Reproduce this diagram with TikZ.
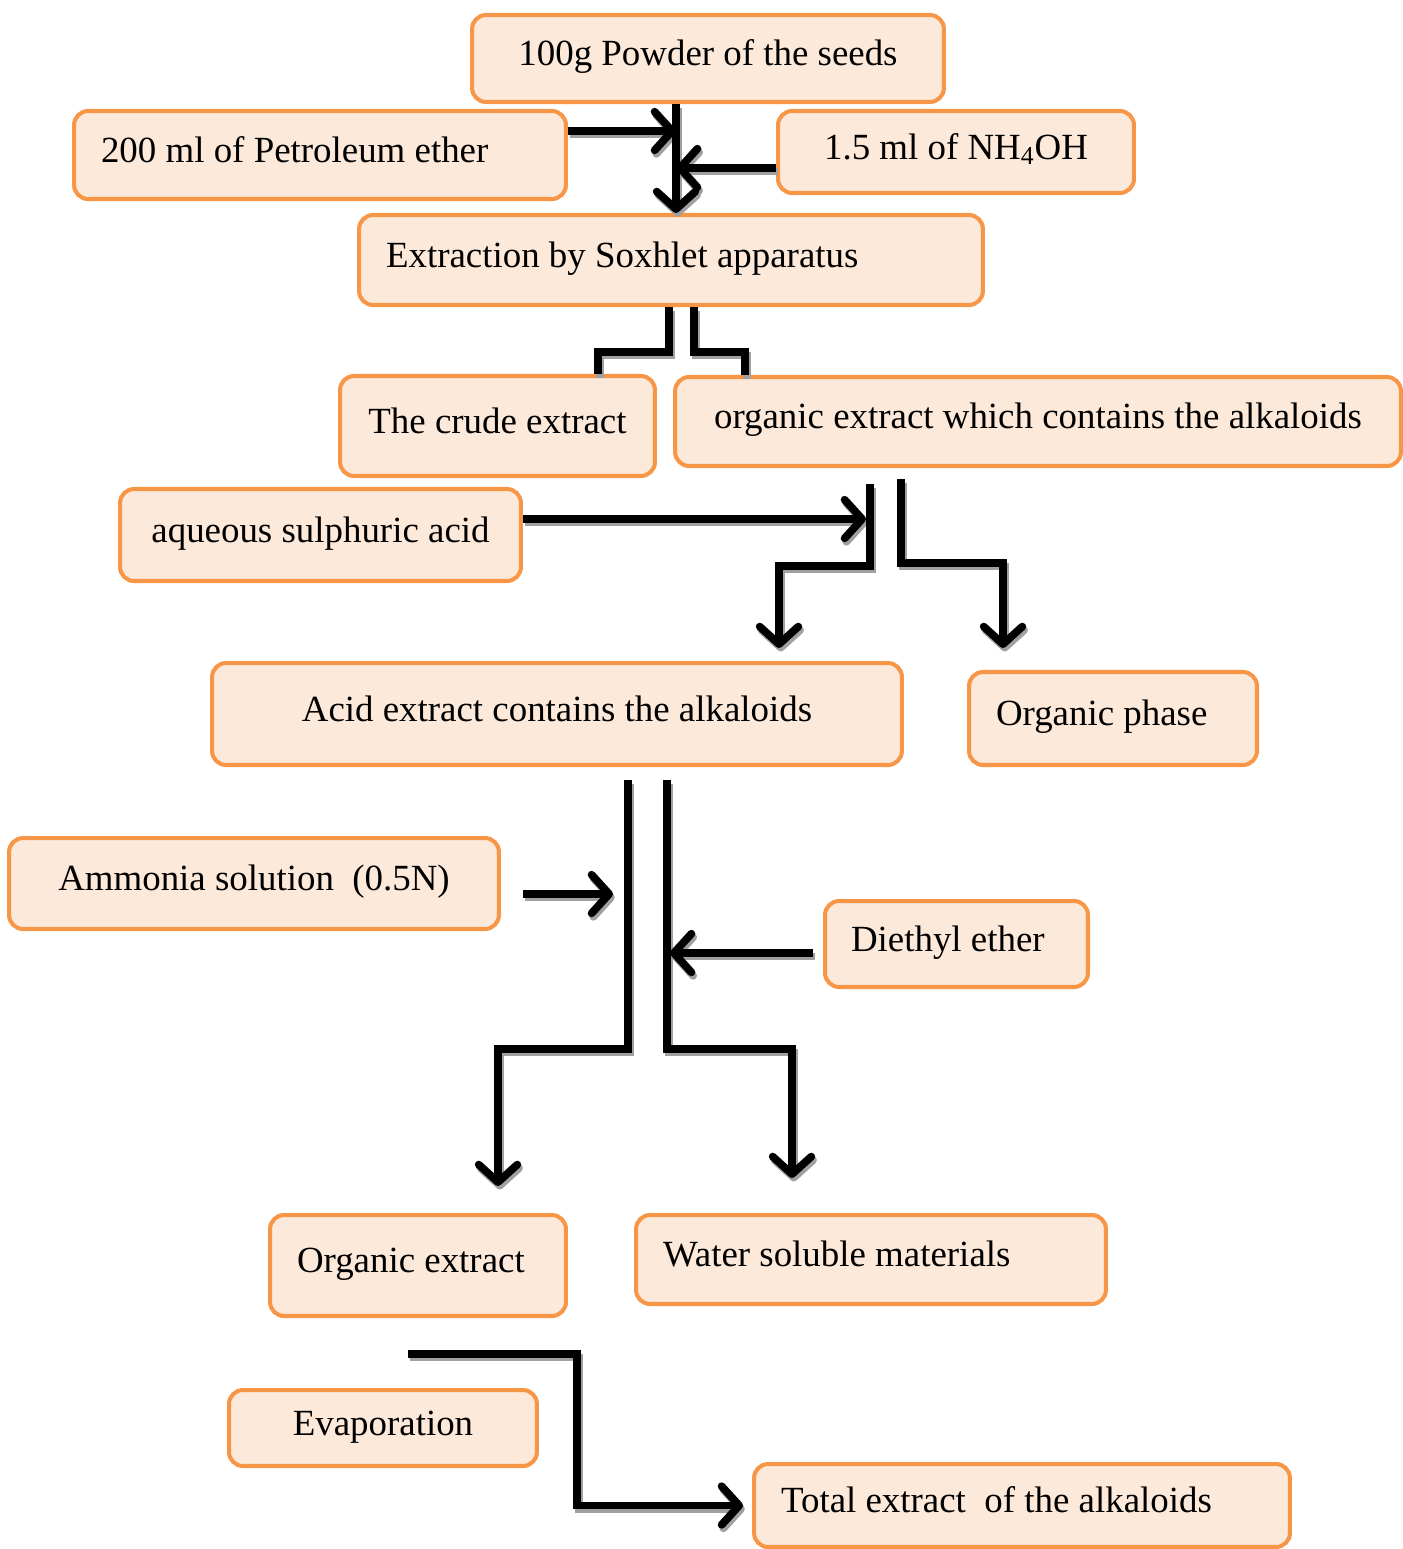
\documentclass[tikz,border=0pt]{standalone}
\usepackage{fontspec}
\setmainfont{Liberation Serif}
\usetikzlibrary{arrows.meta}
\definecolor{boxline}{RGB}{247,150,70}
\definecolor{boxfill}{RGB}{252,233,218}
\definecolor{shade}{RGB}{160,160,160}

\begin{document}
\begin{tikzpicture}[x=0.02cm, y=-0.02cm,
    every node/.style={font=\fontsize{21}{25}\selectfont},
    stage/.style={draw=boxline, fill=boxfill, line width=2.3pt, rounded corners=8pt, inner sep=0pt,
        text height=14pt, text depth=6pt, align=center},
    flow/.style={line width=4.4pt},
    arr/.style={flow, -{Straight Barb[length=10pt, width=22pt, round]}}]
    \useasboundingbox (0,0) rectangle (1403,1549);

    % Seeds and solvents
    \node[stage, minimum width=9.44cm, minimum height=1.74cm] (seeds) at (708,58.5) {100g Powder of the seeds};
    \node[stage, minimum width=9.84cm, minimum height=1.76cm, text width=8.76cm, align=flush left] (petrol) at (320,155) {200 ml of Petroleum ether};
    \node[stage, minimum width=7.12cm, minimum height=1.64cm] (nh4oh) at (956,152) {1.5 ml of NH\textsubscript{4}OH};

    % Soxhlet extraction
    \node[stage, minimum width=12.48cm, minimum height=1.8cm, text width=11.4cm, align=flush left] (soxhlet) at (671,260) {Extraction by Soxhlet apparatus};
    \node[stage, minimum width=6.3cm, minimum height=2cm] (crude) at (497.5,426) {The crude extract};
    \node[stage, minimum width=14.52cm, minimum height=1.78cm] (organic) at (1038,421.5) {organic extract which contains the alkaloids};

    % Acid partition
    \node[stage, minimum width=8.02cm, minimum height=1.84cm] (acid) at (320.5,535) {aqueous sulphuric acid};
    \node[stage, minimum width=13.8cm, minimum height=2.04cm] (acidext) at (557,714) {Acid extract contains the alkaloids};
    \node[stage, minimum width=5.76cm, minimum height=1.86cm, text width=4.68cm, align=flush left] (orgphase) at (1113,718.5) {Organic phase};

    % Basification and ether
    \node[stage, minimum width=9.8cm, minimum height=1.82cm] (ammonia) at (254,883.5) {Ammonia solution~~(0.5N)};
    \node[stage, minimum width=5.26cm, minimum height=1.72cm, text width=4.22cm, align=flush left] (diethyl) at (956.5,944) {Diethyl ether};
    \node[stage, minimum width=5.92cm, minimum height=2.02cm, text width=4.84cm, align=flush left] (orgext) at (418,1265.5) {Organic extract};
    \node[stage, minimum width=9.4cm, minimum height=1.78cm, text width=8.32cm, align=flush left] (water) at (871,1259.5) {Water soluble materials};

    % Evaporation
    \node[stage, minimum width=6.16cm, minimum height=1.52cm] (evap) at (383,1428) {Evaporation};
    \node[stage, minimum width=10.72cm, minimum height=1.66cm, text width=9.64cm, align=flush left] (total) at (1022,1505.5) {Total extract~~of the alkaloids};

    % Junction points
    \coordinate (in1) at (676,131);  \coordinate (in2) at (676,168);
    \coordinate (a1) at (669,352);   \coordinate (a2) at (598,352);
    \coordinate (a3) at (694,352);   \coordinate (a4) at (745,352);
    \coordinate (aq) at (866,519);
    \coordinate (b1) at (870,566);   \coordinate (b2) at (779,566);
    \coordinate (b3) at (901,563);   \coordinate (b4) at (1003,563);
    \coordinate (am) at (613,894);   \coordinate (de) at (670,953);
    \coordinate (c1) at (628,1049);  \coordinate (c2) at (498,1049);
    \coordinate (c3) at (667,1049);  \coordinate (c4) at (792,1049);
    \coordinate (e1) at (408,1354);  \coordinate (e2) at (577,1354);

    % Connectors, first their grey shadow, then in black
    \foreach \ink/\dx/\dy in {shade/1pt/-2pt, black/0pt/0pt} {
    \begin{scope}[color=\ink, transform canvas={xshift=\dx, yshift=\dy}]
        % Mixing
        \draw[arr] (seeds.south -| in1) -- (soxhlet.north -| in1);
        \draw[arr] (petrol.east |- in1) -- (in1);
        \draw[arr] (nh4oh.west |- in2) -- (in2);
        % Split of the extract
        \draw[flow] (soxhlet.south -| a1) -- (a1) -- (a2) -- (crude.north -| a2);
        \draw[flow] (soxhlet.south -| a3) -- (a3) -- (a4) -- (organic.north -| a4);
        % Acid partition
        \draw[arr] (acid.east |- aq) -- (aq);
        \draw[arr, shorten <=0.32cm, shorten >=0.26cm] (organic.south -| b1) -- (b1) -- (b2) -- (acidext.north -| b2);
        \draw[arr, shorten <=0.22cm, shorten >=0.44cm] (organic.south -| b3) -- (b3) -- (b4) -- (orgphase.north -| b4);
        % Basification and ether extraction
        \draw[arr, shorten <=0.44cm] (ammonia.east |- am) -- (am);
        \draw[arr, shorten <=0.2cm] (diethyl.west |- de) -- (de);
        \draw[arr, shorten <=0.26cm, shorten >=0.54cm] (acidext.south -| c1) -- (c1) -- (c2) -- (orgext.north -| c2);
        \draw[arr, shorten <=0.26cm, shorten >=0.7cm] (acidext.south -| c3) -- (c3) -- (c4) -- (water.north -| c4);
        % Evaporation
        \draw[arr, shorten >=0.18cm] (e1) -- (e2) |- (total.west);
    \end{scope}
    }
\end{tikzpicture}
\end{document}
